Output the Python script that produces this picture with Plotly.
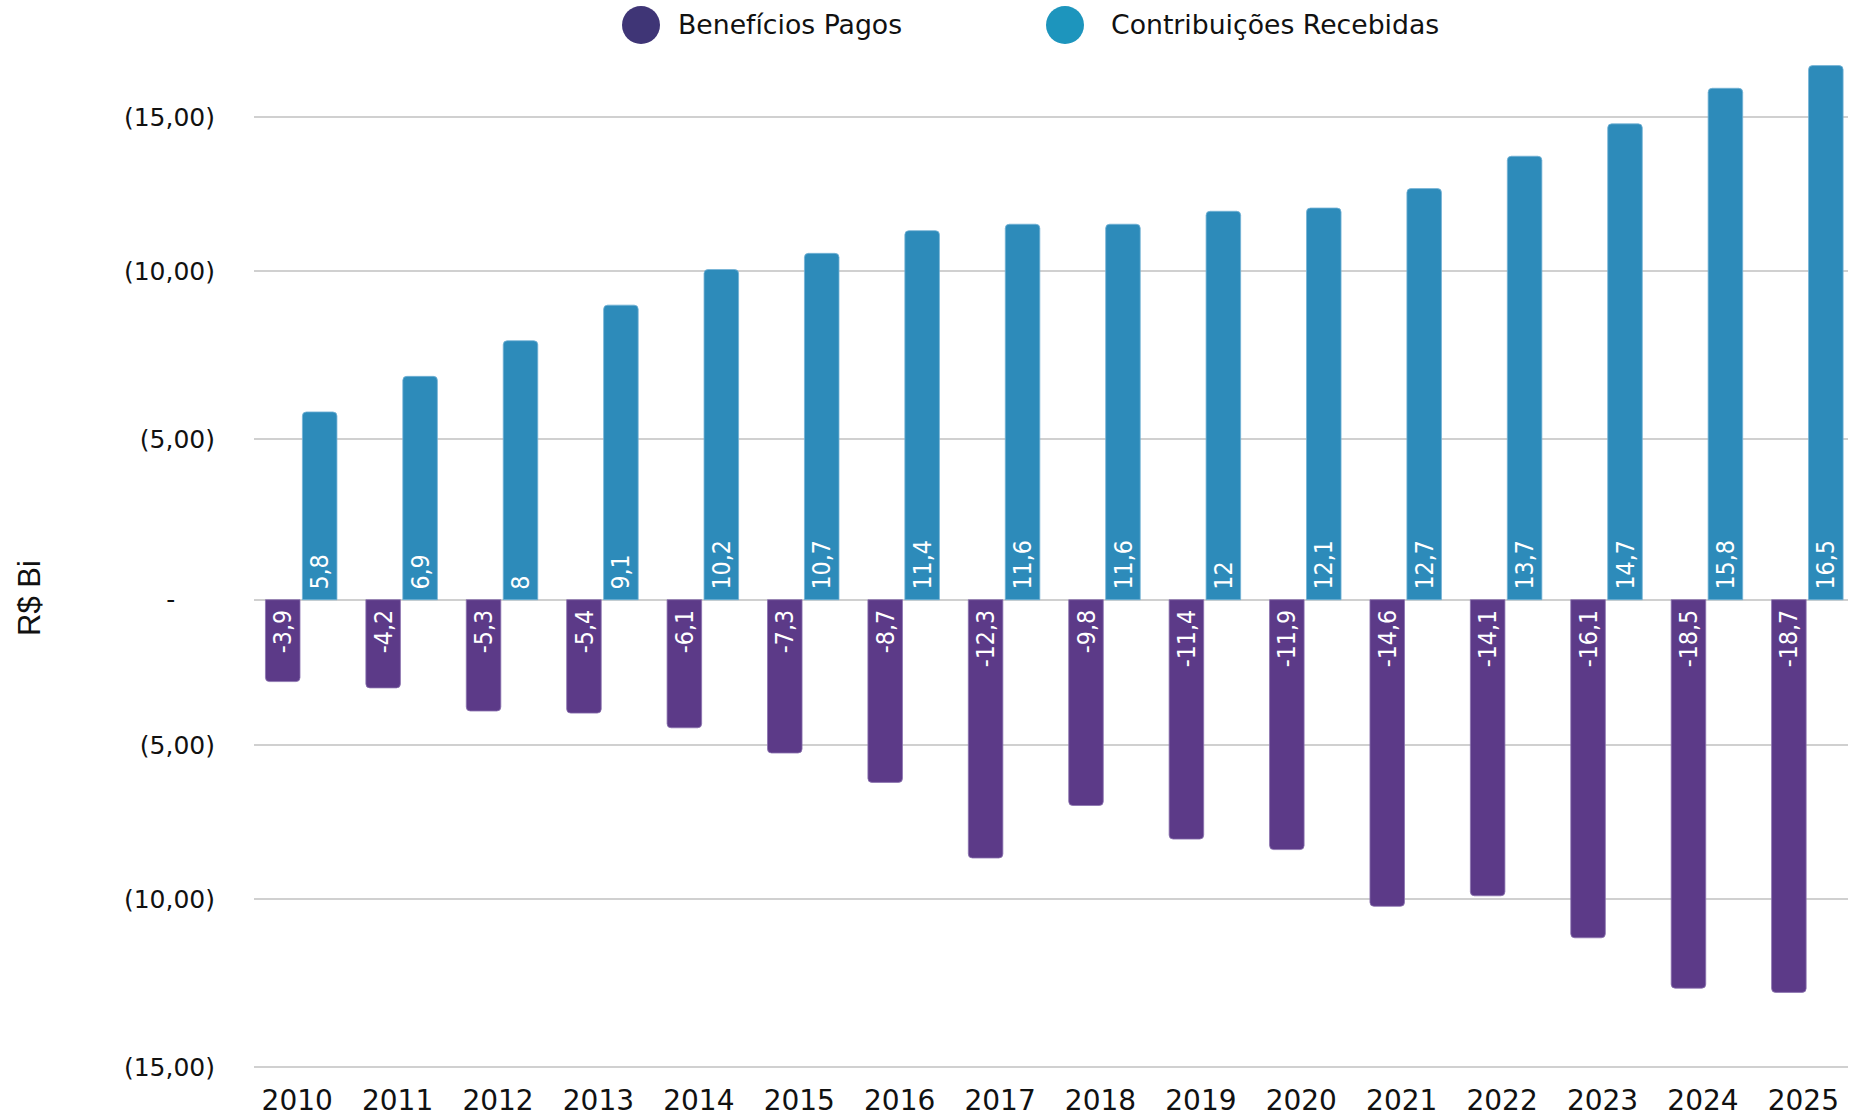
import plotly.graph_objects as go

# ---------------- data ----------------
anos = [str(a) for a in range(2010, 2026)]
contribuicoes_recebidas = [5.8, 6.9, 8, 9.1, 10.2, 10.7, 11.4, 11.6, 11.6, 12, 12.1, 12.7, 13.7, 14.7, 15.8, 16.5]
beneficios_pagos = [-3.9, -4.2, -5.3, -5.4, -6.1, -7.3, -8.7, -12.3, -9.8, -11.4, -11.9, -14.6, -14.1, -16.1, -18.5, -18.7]

# y-axis tick positions (as drawn in the original) and their labels
y_tick_pos = [14.90, 10.16, 4.955, 0, -4.50, -9.26, -14.45]
y_tick_txt = ["(15,00)", "(10,00)", "(5,00)", "-\u2007\u2007\u00a0", "(5,00)", "(10,00)", "(15,00)"]

serie_nomes = ["Benefícios Pagos", "Contribuições Recebidas"]

# ---------------- styling ----------------
W, H = 1870, 1120
PL, PR, PT, PB = 254, 1848, 50, 1075  # plot area in pixels
ZERO_PX = 599.7
SCALE1 = 32.37   # px per unit, contributions axis
SCALE2 = 21.0    # px per unit, benefits axis

COR_BEN = "#5C3A88"
COR_CON = "#2D8BBA"
COR_BEN_LEG = "#3F3576"
COR_CON_LEG = "#1D95BD"
GRID = "#D0D0D0"
TICK_FONT = "DejaVu Sans"
BAR_FONT = "Liberation Sans Narrow, DejaVu Sans Condensed, Liberation Sans"


def fmt(v):
    return ("%g" % v).replace(".", ",")


y1_range = [-(PB - ZERO_PX) / SCALE1, (ZERO_PX - PT) / SCALE1]
y2_range = [-(PB - ZERO_PX) / SCALE2, (ZERO_PX - PT) / SCALE2]

BAND = 100.41
x_left = (PL - 301.2) / BAND
x_right = (PR - 301.2) / BAND
BW = 0.344

fig = go.Figure()

fig.add_trace(go.Bar(
    x=anos, y=beneficios_pagos, name=serie_nomes[0], yaxis="y2",
    marker=dict(color=COR_BEN, line=dict(color="#8A72AE", width=0.8)),
    width=BW, offset=-0.356,
    text=["%s\u00a0" % fmt(v) for v in beneficios_pagos],
    textposition="inside", insidetextanchor="start", textangle=-90,
    textfont=dict(color="white", size=26, family=BAR_FONT),
    constraintext="none", showlegend=False, hoverinfo="skip",
))
fig.add_trace(go.Bar(
    x=anos, y=contribuicoes_recebidas, name=serie_nomes[1], yaxis="y",
    marker=dict(color=COR_CON, line=dict(color="#73B2D6", width=0.8)),
    width=BW, offset=0.012,
    text=["\u00a0%s" % fmt(v) for v in contribuicoes_recebidas],
    textposition="inside", insidetextanchor="start", textangle=-90,
    textfont=dict(color="white", size=26, family=BAR_FONT),
    constraintext="none", showlegend=False, hoverinfo="skip",
))


def px_x(p):
    return (p - PL) / (PR - PL)


def px_y(p):
    return (PB - p) / (PB - PT)


shapes = []
annotations = []
legend_items = [(641, 676, serie_nomes[0], COR_BEN_LEG), (1065, 1109, serie_nomes[1], COR_CON_LEG)]
for cx, tx, nome, cor in legend_items:
    shapes.append(dict(type="circle", xref="paper", yref="paper",
                       xsizemode="pixel", ysizemode="pixel",
                       xanchor=px_x(cx), yanchor=px_y(25),
                       x0=-19, x1=19, y0=-19, y1=19,
                       fillcolor=cor, line=dict(width=0)))
    annotations.append(dict(text=nome, xref="paper", yref="paper",
                            x=px_x(tx), y=px_y(25), xanchor="left", yanchor="middle",
                            showarrow=False, font=dict(family=TICK_FONT, size=26.7, color="#111111")))

annotations.append(dict(text="R$ Bi", xref="paper", yref="paper",
                        x=px_x(29), y=px_y(598), xanchor="center", yanchor="middle",
                        textangle=-90, showarrow=False,
                        font=dict(family="Liberation Sans", size=31, color="#111111")))

fig.update_layout(
    width=W, height=H,
    margin=dict(l=PL, r=W - PR, t=PT, b=H - PB, pad=0, autoexpand=False),
    paper_bgcolor="white", plot_bgcolor="white",
    barmode="overlay", barcornerradius=4,
    shapes=shapes, annotations=annotations,
    xaxis=dict(type="category", range=[x_left, x_right], showgrid=False,
               showline=False, zeroline=False, ticks="", automargin=False,
               tickfont=dict(family=TICK_FONT, size=28, color="#111111"),
               ticklabelstandoff=6, ticklabelshift=-4),
    yaxis=dict(range=y1_range, tickvals=y_tick_pos, ticktext=y_tick_txt,
               showgrid=True, gridcolor=GRID, gridwidth=1.5,
               zeroline=True, zerolinecolor=GRID, zerolinewidth=1.5,
               showline=False, ticks="", automargin=False,
               tickfont=dict(family=TICK_FONT, size=25, color="#111111"),
               ticklabelstandoff=38),
    yaxis2=dict(range=y2_range, overlaying="y", showgrid=False, zeroline=False,
                showticklabels=False, ticks="", showline=False, automargin=False),
)

fig.write_html("out.html", config={"displayModeBar": False},
               post_script="document.body.style.margin='0px';document.body.style.overflow='hidden';")
